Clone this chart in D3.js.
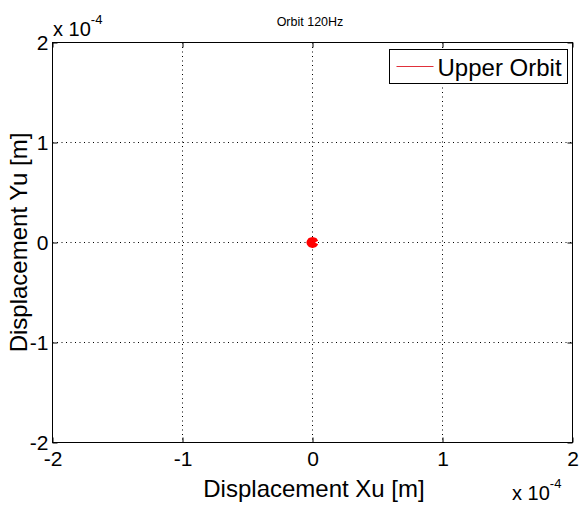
<!DOCTYPE html>
<html>
<head>
<meta charset="utf-8">
<script src="https://cdn.jsdelivr.net/npm/d3@7"></script>
<style>
  body { margin: 0; background: #fff; }
  svg text { font-family: "Liberation Sans", Arial, sans-serif; fill: #000; }
</style>
</head>
<body>
<svg id="chart" width="580" height="505"></svg>
<script>
// ── Data ─────────────────────────────────────────────
const xTicks = [-2e-4, -1e-4, 0, 1e-4, 2e-4];
const yTicks = [-2e-4, -1e-4, 0, 1e-4, 2e-4];
const tickLabels = ['-2', '-1', '0', '1', '2'];
// Upper orbit trace (tiny loop around origin), metres
const orbitX = [2.0e-6, 1.4e-6, 0, -1.4e-6, -2.0e-6, -1.4e-6, 0, 1.4e-6, 2.0e-6];
const orbitY = [0, 1.4e-6, 2.0e-6, 1.4e-6, 0, -1.4e-6, -2.0e-6, -1.4e-6, 0];

// ── Layout ───────────────────────────────────────────
const margin = { top: 42.5, left: 52.5, right: 7.5, bottom: 62.5 };
const W = 580, H = 505;
const iW = W - margin.left - margin.right;
const iH = H - margin.top - margin.bottom;

const svg = d3.select('#chart');
const g = svg.append('g').attr('transform', `translate(${margin.left},${margin.top})`);

const x = d3.scaleLinear().domain([-2e-4, 2e-4]).range([0, iW]);
const y = d3.scaleLinear().domain([-2e-4, 2e-4]).range([iH, 0]);

// ── Grid (dotted) ────────────────────────────────────
g.append('g').selectAll('line').data(xTicks.slice(1, -1)).join('line')
  .attr('x1', d => x(d)).attr('x2', d => x(d))
  .attr('y1', 0).attr('y2', iH)
  .attr('stroke', '#000').attr('stroke-width', 1)
  .attr('stroke-dasharray', '1 3.5');
g.append('g').selectAll('line').data(yTicks.slice(1, -1)).join('line')
  .attr('y1', d => y(d)).attr('y2', d => y(d))
  .attr('x1', 0).attr('x2', iW)
  .attr('stroke', '#000').attr('stroke-width', 1)
  .attr('stroke-dasharray', '1 3.5');

// ── Axes (inward ticks, MATLAB style) ────────────────
const styleAx = sel => {
  sel.select('.domain').remove();
  sel.selectAll('.tick line').attr('stroke', '#000');
  sel.selectAll('.tick text').attr('font-size', 21)
    .attr('font-family', '"Liberation Sans", Arial, sans-serif').attr('fill', '#000');
};
g.append('g').attr('transform', `translate(0,${iH})`)
  .call(d3.axisBottom(x).tickValues(xTicks).tickFormat(d => tickLabels[xTicks.indexOf(d)]).tickSize(-5).tickPadding(9))
  .call(styleAx);
g.append('g')
  .call(d3.axisTop(x).tickValues(xTicks).tickFormat('').tickSize(-5))
  .call(styleAx);
g.append('g')
  .call(d3.axisLeft(y).tickValues(yTicks).tickFormat(d => tickLabels[yTicks.indexOf(d)]).tickSize(-5).tickPadding(4))
  .call(styleAx);
g.append('g').attr('transform', `translate(${iW},0)`)
  .call(d3.axisRight(y).tickValues(yTicks).tickFormat('').tickSize(-5))
  .call(styleAx);

// box
g.append('rect').attr('width', iW).attr('height', iH)
  .attr('fill', 'none').attr('stroke', '#000').attr('stroke-width', 1);

// ── Orbit ────────────────────────────────────────────
const pts = orbitX.map((v, i) => [v, orbitY[i]]);
g.append('path')
  .datum(pts)
  .attr('d', d3.line().x(d => x(d[0])).y(d => y(d[1])))
  .attr('fill', '#ff0000').attr('stroke', '#ff0000')
  .attr('stroke-width', 7).attr('stroke-linejoin', 'round');

// ── Exponent labels ──────────────────────────────────
const expTop = svg.append('text').attr('x', 53).attr('y', 36).attr('font-size', 20);
expTop.append('tspan').text('x 10');
expTop.append('tspan').attr('dy', -12).attr('font-size', 13).text('-4');

const expBot = svg.append('text').attr('x', 512).attr('y', 500).attr('font-size', 20);
expBot.append('tspan').text('x 10');
expBot.append('tspan').attr('dy', -12).attr('font-size', 13).text('-4');

// ── Titles ───────────────────────────────────────────
svg.append('text').attr('x', 310).attr('y', 26).attr('text-anchor', 'middle')
  .attr('font-size', 12.5).text('Orbit 120Hz');

svg.append('text').attr('x', 314).attr('y', 497).attr('text-anchor', 'middle')
  .attr('font-size', 24).text('Displacement Xu [m]');

svg.append('text').attr('transform', `translate(27,${margin.top + iH / 2}) rotate(-90)`)
  .attr('text-anchor', 'middle').attr('font-size', 24).text('Displacement Yu [m]');

// ── Legend ───────────────────────────────────────────
const lg = svg.append('g').attr('transform', 'translate(389.5,49.5)');
lg.append('rect').attr('width', 178).attr('height', 34)
  .attr('fill', '#fff').attr('stroke', '#000').attr('stroke-width', 1);
lg.append('line').attr('x1', 7).attr('x2', 44).attr('y1', 17).attr('y2', 17)
  .attr('stroke', '#e0303a').attr('stroke-width', 1.2);
lg.append('text').attr('x', 48).attr('y', 26).attr('font-size', 24).text('Upper Orbit');
</script>
</body>
</html>
